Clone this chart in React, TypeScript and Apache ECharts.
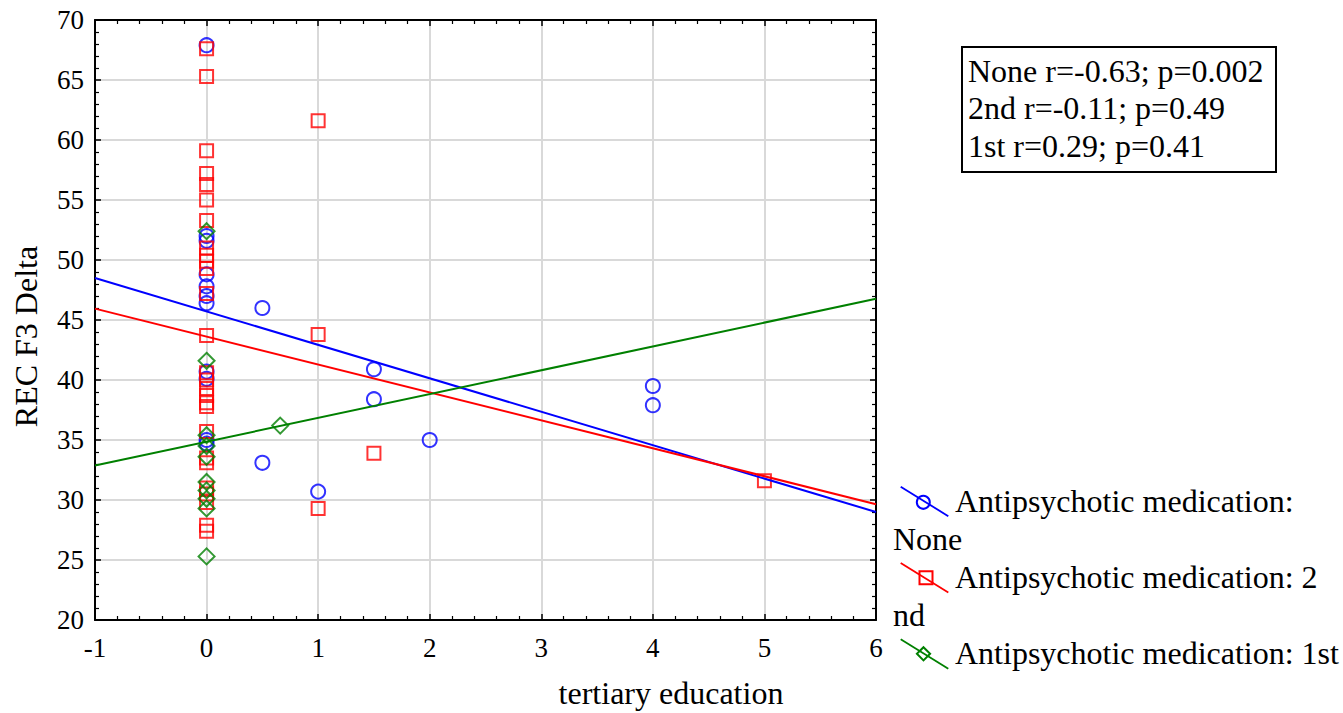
import React, { useEffect, useRef } from "react";
import * as echarts from "echarts";

const FONT = "'Liberation Serif', 'Times New Roman', serif";

// tertiary education (x) / REC F3 Delta (y)
const noneX = [0, 0, 0, 0, 0, 0, 0, 0, 0, 0, 0, 0.5, 0.5, 1, 1.5, 1.5, 2, 4, 4];
const noneY = [67.9, 52.0, 51.6, 48.8, 47.8, 47.0, 46.4, 40.7, 40.1, 35.0, 34.7, 46.0, 33.1, 30.7, 40.9, 38.4, 35.0, 39.5, 37.9];

const secondX = [0, 0, 0, 0, 0, 0, 0, 0, 0, 0, 0, 0, 0, 0, 0, 0, 0, 0, 0, 0, 0, 0, 0, 0, 0, 0, 0, 1, 1, 1, 1.5, 5];
const secondY = [67.6, 65.3, 59.1, 57.2, 56.3, 55.0, 53.3, 51.0, 50.4, 49.9, 49.3, 47.2, 43.7, 40.6, 40.0, 39.3, 38.7, 38.1, 37.8, 35.7, 33.5, 33.1, 31.0, 30.5, 29.8, 27.9, 27.4, 61.6, 43.8, 29.3, 33.9, 31.6];

const firstX = [0, 0, 0, 0, 0, 0, 0, 0, 0, 0, 0.66];
const firstY = [52.4, 41.6, 35.4, 34.5, 33.6, 31.5, 30.8, 30.1, 29.3, 25.3, 36.2];

// regression line end points
const fitX = [-1, 6];
const fitNoneY = [48.5, 29.0];
const fitSecondY = [45.95, 29.65];
const fitFirstY = [32.87, 46.77];

const xTicks = { min: -1, max: 6, interval: 1 };
const yTicks = { min: 20, max: 70, interval: 5 };

const statLines = ["None r=-0.63; p=0.002", "2nd r=-0.11; p=0.49", "1st r=0.29; p=0.41"];
const legendNames = ["Antipsychotic medication: None", "Antipsychotic medication: 2nd", "Antipsychotic medication: 1st"];
const xName = "tertiary education";
const yName = "REC F3 Delta";

const BLUE = "#0000ff";
const RED = "#ff0000";
const GREEN = "#008000";

const zip = (xs: number[], ys: number[]) => xs.map((x, i) => [x, ys[i]]);

export default function App() {
  const ref = useRef<HTMLDivElement>(null);
  useEffect(() => {
    if (!ref.current) return;
    const chart = echarts.init(ref.current, undefined, { renderer: "svg" });
    const axisLine = { show: true, onZero: false, lineStyle: { color: "#000", width: 2 } };
    const tick = { show: true, inside: true, length: 6, lineStyle: { color: "#000", width: 1.5 } };
    const minor = { show: true, splitNumber: 5, length: 4, lineStyle: { color: "#000", width: 1.2 } };
    const split = { show: true, lineStyle: { color: "#d9d9d9", width: 2 } };
    const label = { fontFamily: FONT, fontSize: 27, color: "#000" };

    const scatterBase = (name: string, data: number[][], symbol: string, size: number, color: string) => ({
      type: "scatter",
      name,
      data,
      symbol,
      symbolSize: size,
      itemStyle: { color: "rgba(0,0,0,0)", borderColor: color, borderWidth: 2 },
      xAxisIndex: 0,
      yAxisIndex: 0,
      z: 3,
    });
    const fit = (name: string, ys: number[], color: string) => ({
      type: "line",
      name,
      data: zip(fitX, ys),
      symbol: "none",
      lineStyle: { color, width: 2 },
      xAxisIndex: 0,
      yAxisIndex: 0,
      z: 4,
      silent: true,
    });

    const legendItem = (color: string, marker: any, line1: string, line2: string | null, y0: number) => {
      const els: any[] = [
        { type: "line", shape: { x1: 900.7, y1: y0 - 15, x2: 948.3, y2: y0 + 14.5 }, style: { stroke: color, lineWidth: 1.8 } },
        marker,
        { type: "text", x: 955, y: y0 - 1, style: { text: line1, fontFamily: FONT, fontSize: 32, fill: "#000", align: "left", verticalAlign: "middle" } },
      ];
      if (line2) {
        els.push({ type: "text", x: 893, y: y0 + 37.3, style: { text: line2, fontFamily: FONT, fontSize: 32, fill: "#000", align: "left", verticalAlign: "middle" } });
      }
      return els;
    };

    const graphic: any[] = [
      { type: "rect", shape: { x: 962, y: 47, width: 314, height: 125 }, style: { fill: "#fff", stroke: "#000", lineWidth: 2 } },
      ...statLines.map((t, i) => ({
        type: "text",
        x: 968,
        y: 70.7 + i * 37.5,
        style: { text: t, fontFamily: FONT, fontSize: 32, fill: "#000", align: "left", verticalAlign: "middle" },
      })),
      { type: "text", x: 671, y: 693, style: { text: xName, fontFamily: FONT, fontSize: 32, fill: "#000", align: "center", verticalAlign: "middle" } },
      { type: "text", x: 26, y: 336.5, rotation: Math.PI / 2, style: { text: yName, fontFamily: FONT, fontSize: 32, fill: "#000", align: "center", verticalAlign: "middle" } },
      ...legendItem(BLUE, { type: "circle", shape: { cx: 923.3, cy: 502.3, r: 6.5 }, style: { fill: "none", stroke: BLUE, lineWidth: 2 } }, "Antipsychotic medication:", "None", 501.7),
      ...legendItem(RED, { type: "rect", shape: { x: 919.5, y: 571.2, width: 13, height: 13 }, style: { fill: "none", stroke: RED, lineWidth: 2 } }, "Antipsychotic medication: 2", "nd", 578),
      ...legendItem(GREEN, { type: "polygon", shape: { points: [[923.5, 647.2], [930.1, 653.8], [923.5, 660.4], [916.9, 653.8]] }, style: { fill: "none", stroke: GREEN, lineWidth: 2 } }, "Antipsychotic medication: 1st", null, 654.3),
    ];

    chart.setOption({
      animation: false,
      backgroundColor: "#fff",
      grid: { left: 95, top: 20, width: 781, height: 600, show: false, containLabel: false },
      xAxis: [
        {
          type: "value", ...xTicks, position: "bottom",
          axisLine, axisTick: tick, minorTick: minor, splitLine: split,
          axisLabel: { ...label, margin: 14 },
        },
        {
          type: "value", ...xTicks, position: "top",
          axisLine, axisTick: tick, minorTick: minor, splitLine: { show: false },
          axisLabel: { show: false },
        },
      ],
      yAxis: [
        {
          type: "value", ...yTicks, position: "left",
          axisLine, axisTick: tick, minorTick: minor, splitLine: split,
          axisLabel: { ...label, margin: 11 },
        },
        {
          type: "value", ...yTicks, position: "right",
          axisLine, axisTick: tick, minorTick: minor, splitLine: { show: false },
          axisLabel: { show: false },
        },
      ],
      series: [
        scatterBase(legendNames[0], zip(noneX, noneY), "circle", 14, BLUE),
        scatterBase(legendNames[1], zip(secondX, secondY), "rect", 13, RED),
        scatterBase(legendNames[2], zip(firstX, firstY), "diamond", 16, GREEN),
        fit(legendNames[0] + " fit", fitNoneY, BLUE),
        fit(legendNames[1] + " fit", fitSecondY, RED),
        fit(legendNames[2] + " fit", fitFirstY, GREEN),
      ],
      graphic,
    });
    return () => chart.dispose();
  }, []);
  return <div ref={ref} style={{ position: "absolute", left: 0, top: 0, width: 1343, height: 713 }} />;
}
